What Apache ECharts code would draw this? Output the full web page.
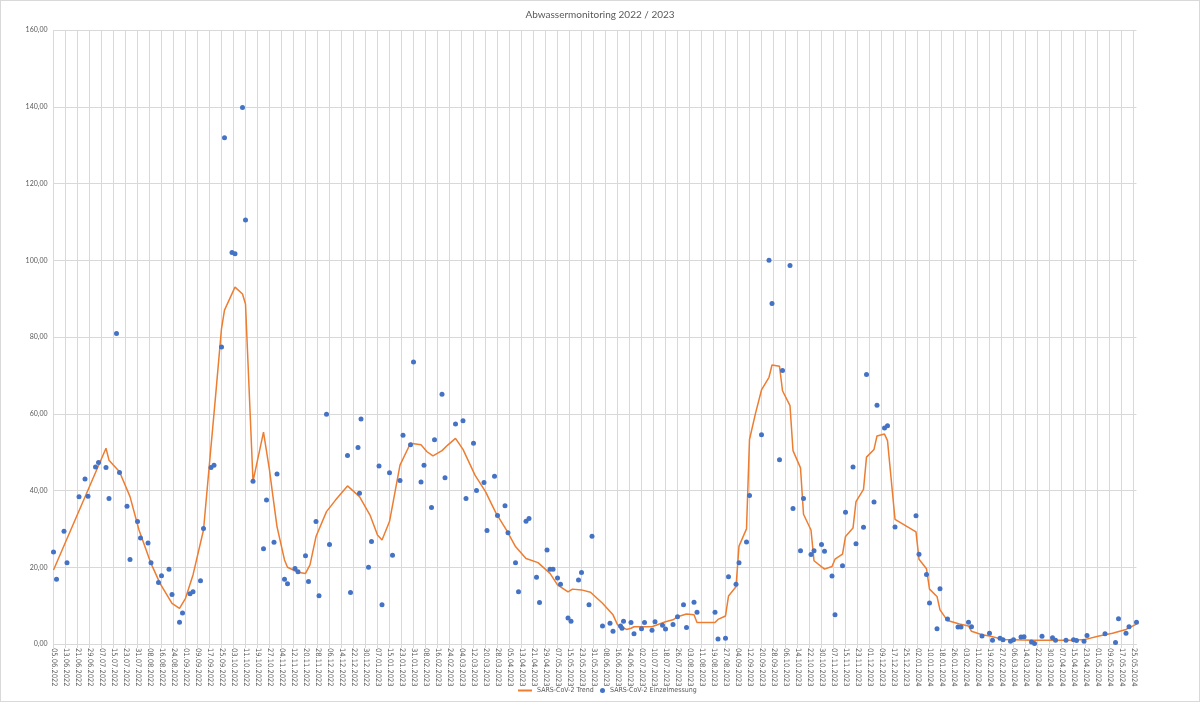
<!DOCTYPE html>
<html>
<head>
<meta charset="utf-8">
<script src="https://cdn.jsdelivr.net/npm/echarts@6/dist/echarts.min.js"></script>
<style>
  html, body { margin: 0; padding: 0; background: #fff; }
  #wrap { position: relative; width: 1200px; height: 702px; }
  #chart { width: 1200px; height: 702px; }
  #rahmen { position: absolute; left: 0; top: 0; width: 1200px; height: 702px; box-sizing: border-box; border: 1px solid #d9d9d9; pointer-events: none; }
</style>
</head>
<body>
<div id="wrap">
  <div id="chart"></div>
  <div id="rahmen"></div>
</div>
<script>
const varFont = 'Lato';
const schmalFont = "'Liberation Sans Narrow', 'DejaVu Sans Condensed', Lato";

// Achse: ein Eintrag pro Tag, Beschriftung alle 8 Tage
const startDatum = new Date(2022, 5, 5);
const anzahlTage = 723;

// Einzelmessungen: Tag nach dem 05.06.2022 und Wert
const messTag = [0, 2, 7, 9, 17, 21, 23, 28, 30, 35, 37, 42, 44, 49, 51, 56, 58, 63, 65, 70, 72, 77, 79, 84, 86, 91, 93, 98, 100, 105, 107, 112, 114, 119, 121, 126, 128, 133, 140, 142, 147, 149, 154, 156, 161, 163,
    168, 170, 175, 177, 182, 184, 196, 198, 203, 204, 205, 210, 212, 217, 219, 224, 226, 231, 233, 238, 240, 245, 247, 252, 254, 259, 261, 268, 273, 275, 280, 282, 287, 289, 294, 296, 301, 303, 308, 310,
    315, 317, 322, 324, 329, 331, 333, 336, 338, 343, 345, 350, 352, 357, 359, 366, 371, 373, 378, 379, 380, 385, 387, 392, 394, 399, 401, 406, 408, 413, 416, 420, 422, 427, 429, 441, 443, 448, 450,
    455, 457, 462, 464, 472, 477, 479, 484, 486, 491, 493, 498, 500, 505, 507, 512, 514, 519, 521, 526, 528, 533, 535, 540, 542, 547, 549, 554, 556, 561, 575, 577, 582, 584, 589, 591, 596, 603, 605,
    610, 612, 619, 624, 626, 631, 633, 638, 640, 645, 647, 652, 654, 659, 666, 668, 675, 680, 682, 687, 689, 701, 708, 710, 715, 717, 722];
const messWert = [24.0, 16.9, 29.4, 21.2, 38.4, 43.0, 38.5, 46.1, 47.3, 46.0, 37.9, 80.9, 44.7, 35.9, 22.0, 31.9, 27.6, 26.3, 21.2, 16.0, 17.8, 19.5, 12.9, 5.7, 8.1, 13.1, 13.6, 16.5, 30.1, 46.0, 46.6, 77.4, 131.9, 102.0, 101.7, 139.8, 110.5, 42.4, 24.8, 37.5, 26.5, 44.3, 16.9, 15.7, 19.7, 18.8,
    23.0, 16.3, 31.9, 12.6, 59.9, 25.9, 49.1, 13.4, 51.2, 39.3, 58.6, 20.0, 26.7, 46.4, 10.2, 44.6, 23.1, 42.6, 54.4, 51.9, 73.5, 42.2, 46.6, 35.6, 53.2, 65.1, 43.3, 57.3, 58.2, 37.9, 52.3, 40.0, 42.1, 29.6, 43.7, 33.5, 36.0, 29.0, 21.2, 13.6,
    32.0, 32.7, 17.4, 10.8, 24.5, 19.5, 19.5, 17.2, 15.6, 6.8, 5.9, 16.7, 18.6, 10.2, 28.1, 4.7, 5.4, 3.3, 4.7, 4.1, 5.9, 5.6, 2.7, 4.0, 5.6, 3.6, 5.8, 4.9, 3.9, 5.1, 7.1, 10.2, 4.3, 10.9, 8.3, 8.3, 1.3, 1.5, 17.5,
    15.6, 21.2, 26.6, 38.7, 54.5, 100.0, 88.7, 48.0, 71.3, 98.6, 35.3, 24.3, 37.9, 23.3, 24.3, 25.9, 24.2, 17.7, 7.6, 20.4, 34.3, 46.1, 26.1, 30.4, 70.2, 37.0, 62.2, 56.3, 56.9, 30.5, 33.4, 23.4, 18.1, 10.7, 4.0, 14.4, 6.5, 4.4, 4.4,
    5.7, 4.5, 2.1, 2.8, 1.0, 1.5, 1.1, 0.7, 1.1, 1.8, 1.9, 0.5, 0.1, 2.0, 1.6, 1.0, 1.0, 1.1, 0.9, 0.7, 2.2, 2.7, 0.4, 6.6, 2.8, 4.5, 5.7];

// Trend
const trendTag = [0, 35, 37, 44, 51, 57, 65, 71, 79, 84, 88, 93, 100, 104, 108, 112, 114, 121, 126, 128, 133, 140, 144, 146, 149, 154, 156, 163, 168, 171, 175, 182, 188, 196, 204, 211, 216, 219, 224, 231, 238, 245, 249, 253,
    259, 263, 268, 273, 281, 288, 295, 302, 308, 315, 323, 331, 336, 343, 346, 352, 358, 366, 373, 376, 382, 385, 387, 399, 408, 413, 416, 422, 427, 429, 441, 443, 448, 450, 455, 457, 462, 464, 468, 472,
    477, 479, 484, 486, 491, 493, 498, 500, 505, 507, 514, 519, 521, 526, 528, 533, 535, 540, 542, 547, 549, 554, 556, 561, 575, 577, 582, 584, 589, 591, 596, 604, 610, 612, 619, 624, 631, 633, 653, 679,
    688, 697, 706, 715, 722];
const trendWert = [19.3, 51.0, 47.9, 44.9, 38.4, 29.7, 21.0, 15.8, 10.6, 9.3, 11.9, 18.0, 29.7, 47.1, 64.4, 82.2, 87.0, 93.0, 91.2, 88.6, 42.4, 55.2, 45.3, 39.3, 30.6, 21.9, 20.0, 18.7, 18.4, 20.6, 28.0, 34.5, 37.5, 41.2, 38.4, 33.6, 28.4, 27.1, 31.9, 46.6, 52.3, 51.9, 50.1, 49.0,
    50.4, 51.9, 53.6, 50.7, 44.0, 39.7, 34.1, 29.7, 25.4, 22.3, 21.2, 18.4, 15.4, 13.6, 14.3, 14.1, 13.5, 10.6, 7.6, 5.0, 3.8, 4.1, 4.5, 4.5, 5.8, 6.3, 7.1, 7.8, 7.6, 5.6, 5.6, 6.4, 7.3, 12.5, 14.9, 25.5, 30.0, 53.3, 60.1, 66.2,
    69.5, 72.7, 72.4, 66.0, 62.1, 50.4, 45.9, 33.8, 29.7, 21.7, 19.5, 20.2, 22.1, 23.4, 28.0, 30.2, 37.1, 40.3, 48.7, 50.7, 54.2, 54.7, 53.0, 32.5, 29.2, 22.1, 19.6, 14.3, 12.4, 8.9, 6.1, 5.2, 4.7, 3.3, 2.4, 2.1, 1.4, 1.2, 1.0, 1.0,
    1.2, 2.1, 2.8, 3.8, 5.2];

function datumText(i) {
    const d = new Date(startDatum.getFullYear(), startDatum.getMonth(), startDatum.getDate() + i);
    const tt = String(d.getDate()).padStart(2, '0');
    const mm = String(d.getMonth() + 1).padStart(2, '0');
    return `${tt}.${mm}.${d.getFullYear()}`;
}

let kategorien = [];
for (let i = 0; i < anzahlTage; i++) {
    kategorien.push(datumText(i));
}

const textFarbe = '#595959';
const gitterFarbe = '#d9d9d9';

// zwei Legenden, damit Linie und Punkt eigene Symbolgroessen haben
function legende(name, left, icon, breite, hoehe) {
    return {
        left: left,
        top: 682,
        icon: icon,
        itemWidth: breite,
        itemHeight: hoehe,
        textStyle: {
            fontFamily: schmalFont,
            fontSize: 7,
            color: textFarbe,
        },
        data: [name],
    };
}

var option = {
    animation: false,
    textStyle: {
        fontFamily: varFont,
    },
    title: {
        text: 'Abwassermonitoring 2022 / 2023',
        left: 'center',
        top: 5,
        textStyle: {
            fontFamily: varFont,
            fontSize: 10,
            fontWeight: 'normal',
            color: textFarbe,
        },
    },
    legend: [
        legende('SARS-CoV-2 Trend', 513, 'rect', 14, 2),
        legende('SARS-CoV-2 Einzelmessung', 595, 'circle', 5, 5),
    ],
    grid: {
        left: 53.5,
        right: 63.5,
        top: 30,
        bottom: 58,
    },
    xAxis: {
        type: 'category',
        boundaryGap: false,
        data: kategorien,
        axisLine: {
            show: true,
            lineStyle: { color: gitterFarbe },
        },
        axisTick: {
            show: true,
            interval: 7,
            length: 4,
            lineStyle: { color: gitterFarbe },
        },
        axisLabel: {
            interval: 7,
            rotate: -90,
            margin: 4,
            fontFamily: schmalFont,
            fontSize: 7.5,
            color: textFarbe,
        },
        splitLine: {
            show: true,
            interval: 7,
            lineStyle: { color: gitterFarbe, width: 1 },
        },
    },
    yAxis: {
        type: 'value',
        min: 0,
        max: 160,
        interval: 20,
        axisLine: { show: false },
        axisTick: { show: false },
        axisLabel: {
            fontSize: 7,
            color: textFarbe,
            margin: 6,
            formatter: (v) => v.toFixed(2).replace('.', ','),
        },
        splitLine: {
            lineStyle: { color: gitterFarbe, width: 1 },
        },
    },
    series: [
        {
            name: 'SARS-CoV-2 Trend',
            type: 'line',
            symbol: 'none',
            data: trendTag.map((t, i) => [t, trendWert[i]]),
            lineStyle: { color: '#ED7D31', width: 1.5 },
            itemStyle: { color: '#ED7D31' },
            z: 2,
        },
        {
            name: 'SARS-CoV-2 Einzelmessung',
            type: 'scatter',
            symbolSize: 5,
            data: messTag.map((t, i) => [t, messWert[i]]),
            itemStyle: { color: '#4472C4', opacity: 1 },
            z: 3,
        },
    ],
};

var myChart = echarts.init(document.getElementById('chart'));
myChart.setOption(option);
</script>
</body>
</html>
